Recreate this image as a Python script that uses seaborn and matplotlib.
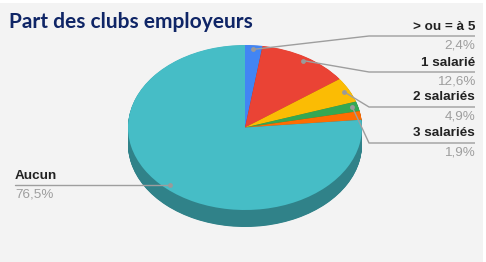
import numpy as np
import matplotlib
matplotlib.use("Agg")
import matplotlib.pyplot as plt
import seaborn as sns
from matplotlib.patches import Rectangle
from matplotlib.colors import to_rgb

# ---- data ----
categories = ["> ou = à 5", "1 salarié", "2 salariés", "3 salariés", "4 salariés", "Aucun"]
values = [2.4, 12.6, 4.9, 1.9, 1.7, 76.5]
show_label = [True, True, True, True, False, True]
colors = ["#4285F4", "#EA4335", "#FBBC04", "#34A853", "#FF6D01", "#46BDC6"]
title = "Part des clubs employeurs"

sns.set_theme(style="white")
plt.rcParams["font.family"] = ["Liberation Sans", "DejaVu Sans"]

W, H = 486, 262
fig = plt.figure(figsize=(W / 100, H / 100), dpi=100, facecolor="white")
fig.patches.append(Rectangle((0, 0), 483 / W, (H - 3) / H, transform=fig.transFigure,
                             facecolor="#F3F3F3", edgecolor="none", zorder=-5))

# pie geometry (pixels)
cx, cy, rx, ry, depth = 245, 127.5, 117, 82.5, 17
ylo = -1 - depth / ry - 0.05
axp = fig.add_axes([(cx - rx) / W, (H - (cy - ylo * ry)) / H, 2 * rx / W, (1 - ylo) * ry / H])
axp.patch.set_visible(False)

dark = [tuple(c * 0.69 for c in to_rgb(col)) for col in colors]
for d in np.linspace(depth / ry, 0.0, 40)[:-1]:
    axp.pie(values, colors=dark, startangle=90, counterclock=False, center=(0, -d),
            wedgeprops=dict(linewidth=0))
wedges, _ = axp.pie(values, colors=colors, startangle=90, counterclock=False,
                    wedgeprops=dict(linewidth=0))
axp.set_xlim(-1, 1)
axp.set_ylim(ylo, 1)
axp.set_aspect("auto")
axp.axis("off")

# overlay axes in pixel coordinates
axo = fig.add_axes([0, 0, 1, 1])
axo.set_xlim(0, W)
axo.set_ylim(H, 0)
axo.axis("off")
axo.patch.set_visible(False)

axo.text(9, 28, title, fontsize=15, fontweight="bold", color="#0F2566",
         family=["Lato", "DejaVu Sans"], va="baseline", ha="left")

right_line_y = [36, 72, 107, 143]
elbow_x, end_x = 369, 475
lc = "#9E9E9E"
fs = 9.7
ri = 0
for w, cat, val, show in zip(wedges, categories, values, show_label):
    if not show:
        continue
    mid = np.deg2rad((w.theta1 + w.theta2) / 2)
    disp = axp.transData.transform((0.95 * np.cos(mid), 0.95 * np.sin(mid)))
    px, py = disp[0], H - disp[1]
    pct = f"{val:.1f}%".replace(".", ",")
    if px > cx:
        ly = right_line_y[ri]
        ri += 1
        axo.plot([px, elbow_x, end_x], [py, ly, ly], color=lc, lw=1, solid_capstyle="butt")
        axo.text(end_x, ly - 9.5, cat, ha="right", va="center", fontsize=fs,
                 fontweight="bold", color="#222222")
        axo.text(end_x, ly + 9.5, pct, ha="right", va="center", fontsize=fs, color="#9E9E9E")
    else:
        ly = py
        axo.plot([15, px], [ly, ly], color=lc, lw=1)
        axo.text(15, ly - 9.5, cat, ha="left", va="center", fontsize=fs,
                 fontweight="bold", color="#222222")
        axo.text(15, ly + 9.5, pct, ha="left", va="center", fontsize=fs, color="#9E9E9E")
    axo.plot([px], [py], marker="o", markersize=3.5, color="#9A9A9A", markeredgewidth=0)

fig.savefig("out.png", dpi=100, facecolor=fig.get_facecolor())
